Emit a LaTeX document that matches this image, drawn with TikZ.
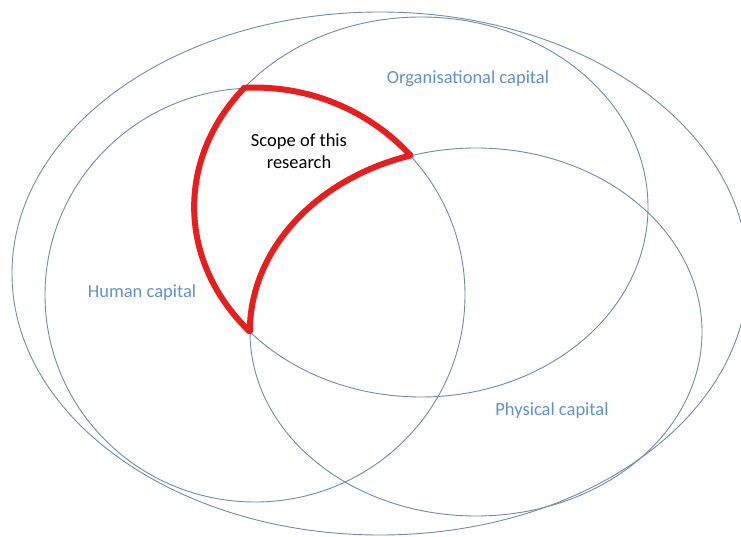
\documentclass[tikz,border=0pt]{standalone}
\usepackage{fontspec}
\setmainfont{Carlito}
\definecolor{ringcol}{RGB}{112,140,172}
\definecolor{labcol}{RGB}{98,146,202}
\definecolor{scopered}{RGB}{230,30,30}
\tikzset{
  ring/.style={draw=ringcol, line width=0.9pt},
  lab/.style={text=labcol, font=\fontsize{18.5}{22}\selectfont, inner sep=0pt},
  scopetext/.style={text=black, font=\fontsize{18.5}{22}\selectfont, align=center, inner sep=0pt},
  scopeline/.style={draw=scopered, line width=6pt, line join=round, line cap=round}
}
\begin{document}
\begin{tikzpicture}[x=1pt,y=1pt]
\useasboundingbox (0,0) rectangle (741,536);
\fill[white] (0,0) rectangle (741,536);
% outer ellipse
\draw[ring] (380,262.5) ellipse [x radius=368pt, y radius=261.5pt];
% organisational capital
\draw[ring] (421,329) ellipse [x radius=227pt, y radius=190pt];
% human capital
\draw[ring] (255,241) ellipse [x radius=210pt, y radius=207pt];
% physical capital
\draw[ring] (476,204) ellipse [x radius=226pt, y radius=184pt];
% scope of this research (red outline)
\coordinate (A) at (244,447.8);
\draw[scopeline] (A)
  arc[start angle=141.3, end angle=221.0, x radius=227pt, y radius=190pt]
  arc[start angle=180, end angle=106.8, x radius=226pt, y radius=184pt]
  arc[start angle=42.2, end angle=93.0, x radius=210pt, y radius=207pt]
  -- cycle;
% labels
\node[lab] (org) at (468,457) {Organisational capital};
\node[lab] (hum) at (142,243) {Human capital};
\node[lab] (phy) at (552,125) {Physical capital};
\node[scopetext] (scope) at (299,385) {Scope of this\\research};
\end{tikzpicture}
\end{document}
